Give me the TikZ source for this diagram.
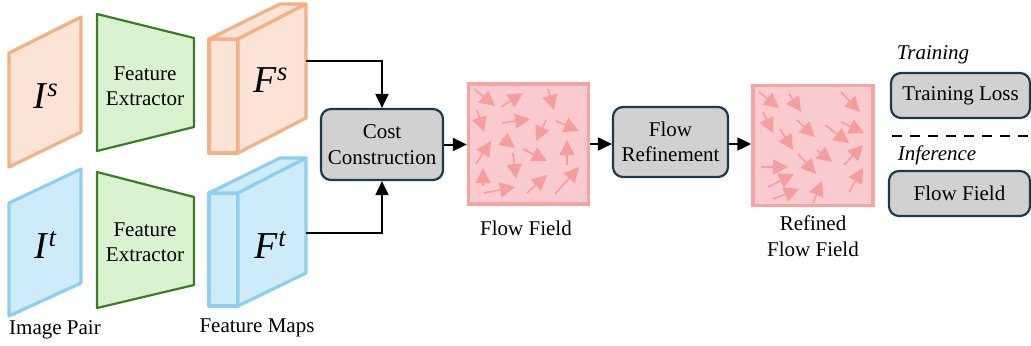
\documentclass[tikz,border=0pt]{standalone}
\usepackage{fontspec}
\setmainfont{Liberation Serif}
\usetikzlibrary{arrows.meta,positioning}

\definecolor{srcline}{RGB}{244,177,131}
\definecolor{srcfill}{RGB}{251,227,214}
\definecolor{tgtline}{RGB}{142,207,240}
\definecolor{tgtfill}{RGB}{206,235,250}
\definecolor{extline}{RGB}{59,125,35}
\definecolor{extfill}{RGB}{217,242,208}
\definecolor{boxline}{RGB}{27,58,75}
\definecolor{boxfill}{RGB}{209,209,209}
\definecolor{fieldline}{RGB}{245,163,163}
\definecolor{fieldfill}{RGB}{249,202,206}
\definecolor{fieldarrow}{RGB}{246,158,158}

\begin{document}
\begin{tikzpicture}[x=0.5pt, y=-0.5pt,
   font=\fontsize{10.5}{12.7}\selectfont,
   big/.style={font=\fontsize{19}{19}\selectfont},
   srcshape/.style={draw=srcline, fill=srcfill, line width=1.6pt, line join=round},
   tgtshape/.style={draw=tgtline, fill=tgtfill, line width=1.6pt, line join=round},
   extshape/.style={draw=extline, fill=extfill, line width=1.1pt, line join=round},
   stagebox/.style={draw=boxline, fill=boxfill, line width=1.1pt, rounded corners=5pt,
      align=center, inner sep=0pt},
   field/.style={draw=fieldline, fill=fieldfill, line width=1.7pt, minimum size=60pt,
      inner sep=0pt},
   conn/.style={line width=1pt, -{Triangle[length=7pt,width=6.5pt]}},
   flowarrow/.style={draw=fieldarrow, line width=0.8pt,
      -{Triangle[length=7.5pt,width=7.5pt]}}]
   \useasboundingbox (0,0) rectangle (1031,345);

   % Image pair
   \draw[srcshape] (9,53) -- (81,17) -- (81,132) -- (9,167) -- cycle;
   \draw[tgtshape] (9,203) -- (81,169) -- (81,283) -- (9,316) -- cycle;
   \node[big] (Is) at (46,96) {\textit{I}\textsuperscript{\textit{s}}};
   \node[big] (It) at (46,245) {\textit{I}\textsuperscript{\textit{t}}};
   \node (pair) at (55,330) {Image Pair};

   % Feature extractors
   \draw[extshape] (97,14) -- (194,38) -- (194,127) -- (97,151) -- cycle;
   \draw[extshape] (97,172) -- (194,197) -- (194,285) -- (97,308) -- cycle;
   \node[align=center] (FEs) at (145,86) {Feature\\Extractor};
   \node[align=center] (FEt) at (145,242) {Feature\\Extractor};

   % Feature maps
   \draw[srcshape] (209,39) -- (238,39) -- (238,153) -- (209,153) -- cycle;
   \draw[srcshape] (209,39) -- (280,4) -- (306,4) -- (238,39) -- cycle;
   \draw[srcshape] (238,39) -- (306,4) -- (306,118) -- (238,153) -- cycle;
   \draw[tgtshape] (209,193) -- (238,193) -- (238,306) -- (209,306) -- cycle;
   \draw[tgtshape] (209,193) -- (280,158) -- (306,158) -- (238,193) -- cycle;
   \draw[tgtshape] (238,193) -- (306,158) -- (306,273) -- (238,306) -- cycle;
   \node[big] (Fs) at (271,80) {\textit{F}\textsuperscript{\textit{s}}};
   \node[big] (Ft) at (271,245) {\textit{F}\textsuperscript{\textit{t}}};
   \node (maps) at (257,328) {Feature Maps};
   \coordinate (FsOut) at (306,61);
   \coordinate (FtOut) at (306,233);

   % Pipeline
   \node[stagebox, minimum width=61pt, minimum height=35.5pt] (cost) at (382,144.5)
      {Cost\\Construction};
   \node[field] (flow) at (528.5,144) {};
   \node (flowlbl) at (526,228) {Flow Field};
   \node[stagebox, minimum width=57.5pt, minimum height=35pt] (refine) at (670.5,142)
      {Flow\\Refinement};
   \node[field] (refined) at (813,145.5) {};
   \node[align=center] (refinedlbl) at (813,236) {Refined\\Flow Field};

   \draw[conn] (FsOut) -| (cost.north);
   \draw[conn] (FtOut) -| (cost.south);
   \draw[conn] (cost.east) -- (cost.east -| flow.west);
   \draw[conn] (flow.east) -- (flow.east -| refine.west);
   \draw[conn] (refine.east |- flow.east) -- (refined.west |- flow.east);

   % Flow arrows
   \foreach \ax/\ay/\bx/\by in {474/89/495/106, 501/107/523/93, 548/89/554/110,
         477/110/484/132, 502/123/530/119, 546/120/536/141, 556/121/579/131,
         476/164/491/141, 502/138/515/148, 513/153/516/179, 523/149/547/161,
         567/165/567/140, 483/186/483/168, 484/193/515/187, 527/193/547/175,
         555/194/579/167} {
      \draw[flowarrow] (\ax,\ay) -- (\bx,\by);
   }
   \foreach \ax/\ay/\bx/\by in {759/92/779/108, 789/94/801/112, 841/92/860/112,
         763/112/773/133, 797/120/815/137, 825/125/849/143, 841/122/864/133,
         780/129/793/150, 817/150/832/162, 798/154/816/174, 844/165/863/145,
         761/167/788/167, 768/187/794/174, 773/199/799/189, 813/203/822/181,
         849/192/863/168} {
      \draw[flowarrow] (\ax,\ay) -- (\bx,\by);
   }

   % Outputs
   \node (train) at (933,55) {\textit{Training}};
   \node[stagebox, minimum width=69.5pt, minimum height=22.5pt] (loss) at (960.5,95.5)
      {Training Loss};
   \draw[line width=1pt, dash pattern=on 5pt off 4pt] (892,136) -- (1031,136);
   \node (infer) at (937,155) {\textit{Inference}};
   \node[stagebox, minimum width=70.5pt, minimum height=22.5pt] (out) at (959.5,193.5)
      {Flow Field};
\end{tikzpicture}
\end{document}
